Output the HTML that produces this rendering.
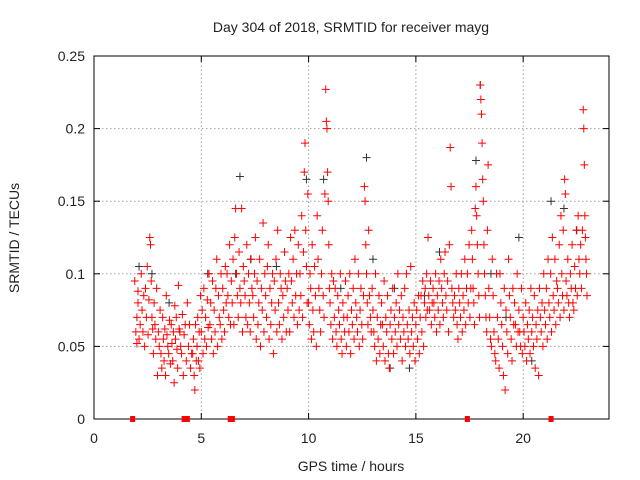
<!DOCTYPE html>
<html><head><meta charset="utf-8"><style>
body{margin:0;background:#fff}
svg{display:block;font-family:"Liberation Sans",sans-serif}
</style></head><body>
<svg id="chart" width="640" height="480" viewBox="0 0 640 480" xmlns="http://www.w3.org/2000/svg">
<text x="351" y="32" font-size="14" text-anchor="middle" fill="#222">Day 304 of 2018, SRMTID for receiver mayg</text>
<text x="351" y="471" font-size="14" text-anchor="middle" fill="#222">GPS time / hours</text>
<text transform="translate(19,238) rotate(-90)" font-size="14" text-anchor="middle" fill="#222">SRMTID / TECUs</text>
<g id="grid"></g><g id="black"></g><g id="red"></g><g id="axes"></g>
</svg>
<script>
const xTicks=[0,5,10,15,20];
const yTicks=[0,0.05,0.1,0.15,0.2,0.25];
const yTickLabels=["0","0.05","0.1","0.15","0.2","0.25"];
const binTimes=[1.9,2.0,2.2,2.4,2.6,2.8,3.0,3.2,3.4,3.6,3.8,4.0,4.2,4.4,4.6,4.8,5.0,5.2,5.4,5.6,5.8,6.0,6.2,6.4,6.6,6.8,7.0,7.2,7.4,7.6,7.8,8.0,8.2,8.4,8.6,8.8,9.0,9.2,9.4,9.6,9.8,10.0,10.2,10.4,10.6,10.8,11.0,11.2,11.4,11.6,11.8,12.0,12.2,12.4,12.6,12.8,13.0,13.2,13.4,13.6,13.8,14.0,14.2,14.4,14.6,14.8,15.0,15.2,15.4,15.6,15.8,16.0,16.2,16.4,16.6,16.8,17.0,17.2,17.4,17.6,17.8,18.0,18.2,18.4,18.6,18.8,19.0,19.2,19.4,19.6,19.8,20.0,20.2,20.4,20.6,20.8,21.0,21.2,21.4,21.6,21.8,22.0,22.2,22.4,22.6,22.8];
const binValues=[[.095,.06,.052,.08],[.07,.088,.055,.065],[.1,.075,.06,.085,.05],[.09,.07,.105,.058,.082],[.125,.12,.095,.07,.062,.045],[.08,.065,.055,.09,.03],[.06,.05,.075,.045,.035],[.07,.055,.04,.062,.03,.085],[.058,.05,.045,.068,.038],[.065,.052,.04,.06,.025,.078],[.055,.07,.048,.035,.092,.062],[.06,.05,.045,.072,.03],[.058,.065,.04,.08],[.05,.065,.035,.045],[.045,.055,.03,.02,.065,.04],[.05,.07,.04,.06,.035,.085],[.06,.075,.045,.09,.055],[.07,.05,.082,.063,.1],[.065,.08,.055,.095,.045],[.075,.06,.09,.11,.05],[.085,.07,.065,.1,.055],[.09,.075,.06,.105,.08],[.1,.085,.07,.12,.065],[.095,.08,.11,.065,.125],[.145,.1,.085,.07,.115],[.09,.08,.145,.06,.105],[.095,.085,.07,.12,.065],[.1,.08,.06,.11,.09],[.085,.07,.1,.125,.055],[.095,.065,.08,.11,.05],[.09,.075,.135,.06,.1],[.085,.07,.105,.12,.055],[.09,.065,.08,.1,.045],[.095,.075,.11,.06,.13],[.08,.065,.1,.09,.055],[.085,.07,.115,.095,.06],[.09,.075,.1,.06,.125],[.095,.08,.11,.07,.13],[.085,.1,.065,.12,.075],[.1,.085,.14,.07,.115],[.17,.19,.13,.105,.08,.155],[.08,.065,.1,.09,.055,.12],[.075,.06,.105,.085,.05],[.14,.11,.09,.075,.06],[.1,.13,.085,.07,.155],[.227,.205,.2,.17,.15,.12,.09],[.08,.065,.1,.055,.095],[.07,.09,.06,.05,.085],[.075,.065,.1,.055,.045],[.08,.07,.06,.095,.05],[.07,.085,.06,.1,.045],[.075,.065,.09,.055,.11],[.08,.07,.06,.1,.05],[.075,.09,.065,.055,.085],[.16,.15,.12,.1,.08,.065],[.13,.085,.07,.06,.09],[.075,.06,.05,.1,.04],[.07,.055,.085,.045,.065],[.08,.065,.05,.095,.04],[.07,.06,.085,.045,.035],[.065,.075,.055,.09,.045],[.07,.06,.08,.05,.1],[.065,.075,.055,.085,.04],[.07,.06,.09,.05,.1],[.065,.055,.075,.045,.105],[.06,.07,.05,.08,.04],[.065,.075,.055,.085,.045],[.07,.085,.06,.095,.05],[.08,.09,.07,.1,.075,.125],[.085,.075,.095,.065,.08],[.09,.08,.07,.1,.06],[.085,.075,.095,.065,.11],[.09,.08,.07,.1,.115],[.085,.075,.095,.06,.12],[.187,.16,.09,.08,.07],[.085,.075,.1,.065,.055],[.09,.08,.07,.1,.06],[.085,.075,.11,.065,.09],[.1,.08,.12,.07,.09],[.13,.11,.09,.08,.065,.145],[.16,.14,.12,.1,.085,.07],[.23,.22,.21,.19,.165,.15,.12],[.1,.085,.07,.06,.13,.175],[.09,.07,.055,.05,.11],[.085,.06,.045,.04,.1],[.07,.055,.035,.1,.08],[.065,.05,.03,.09,.02],[.075,.06,.045,.11,.085],[.07,.055,.04,.09,.065],[.08,.065,.05,.1,.06],[.075,.06,.05,.09,.045],[.07,.06,.05,.08,.04],[.065,.055,.075,.045,.09],[.06,.07,.05,.085,.035],[.065,.055,.075,.03,.09],[.07,.06,.08,.05,.1],[.075,.065,.09,.055,.11],[.08,.07,.1,.06,.125],[.085,.075,.11,.065,.095],[.09,.08,.12,.07,.14],[.1,.085,.13,.075,.165,.155],[.095,.085,.11,.08,.07],[.1,.09,.12,.08,.075],[.105,.09,.13,.085,.14],[.11,.1,.12,.09,.13],[.213,.2,.175,.14,.125,.11,.1,.085]];
const blackTimes=[2.1,2.7,4.8,6.8,6.6,9.9,10.7,12.7,13.8,14.0,15.4,16.1,17.8,18.0,18.5,19.8,20.4,21.3,21.9,22.5,8.5,11.5,3.5,5.3,7.3,19.2,13.0,14.7];
const blackValues=[.105,.1,.05,.167,.1,.165,.165,.18,.035,.09,.085,.115,.178,.23,.1,.125,.04,.15,.145,.13,.105,.09,.08,.1,.11,.07,.11,.035];
const flagTimes=[1.8,4.2,4.35,6.35,6.45,17.4,21.3];

const X0=94,X1=609,Y0=419,Y1=56,XMAX=24,YMAX=0.25;
const sx=v=>X0+(X1-X0)*v/XMAX, sy=v=>Y0-(Y0-Y1)*v/YMAX;
const NS="http://www.w3.org/2000/svg";
function mk(tag,attrs,parent){const e=document.createElementNS(NS,tag);for(const k in attrs)e.setAttribute(k,attrs[k]);parent.appendChild(e);return e;}
const grid=document.getElementById('grid'),axes=document.getElementById('axes');
xTicks.forEach((t,i)=>{
  const x=sx(t);
  if(t>0){const g=mk('line',{x1:x,x2:x,y1:Y0,y2:Y1,stroke:'#a0a0a0','stroke-dasharray':'1.5,2.5'},grid);
  
  }
  mk('line',{x1:x,x2:x,y1:Y0,y2:Y0-6,stroke:'#000'},axes);
  mk('line',{x1:x,x2:x,y1:Y1,y2:Y1+6,stroke:'#000'},axes);
  const l=mk('text',{x:x,y:Y0+24,'font-size':14,'text-anchor':'middle',fill:'#222'},axes);l.textContent=String(t);
  
  
});
yTicks.forEach((t,i)=>{
  const y=sy(t);
  if(t>0&&t<YMAX){const g=mk('line',{x1:X0,x2:X1,y1:y,y2:y,stroke:'#a0a0a0','stroke-dasharray':'1.5,2.5'},grid);
  
  }
  mk('line',{x1:X0,x2:X0+6,y1:y,y2:y,stroke:'#000'},axes);
  mk('line',{x1:X1,x2:X1-6,y1:y,y2:y,stroke:'#000'},axes);
  const l=mk('text',{x:X0-9,y:y+5,'font-size':14,'text-anchor':'end',fill:'#222'},axes);l.textContent=yTickLabels[i];
  
  
});
const frame=mk('rect',{x:X0,y:Y1,width:X1-X0,height:Y0-Y1,fill:'none',stroke:'#000'},axes);


function plus(x,y,col,parent,name){
  const p=mk('path',{d:`M${x-4},${y}h8M${x},${y-4}v8`,stroke:col,'stroke-width':1,fill:'none'},parent);
  
  
}
const blk=document.getElementById('black'),red=document.getElementById('red');
blackTimes.forEach((t,i)=>plus(sx(t),sy(blackValues[i]),'#333',blk,'black-point'));
binTimes.forEach((t,i)=>{const vs=binValues[i];vs.forEach((v,j)=>{
  const tt=t+0.2*j/vs.length;plus(sx(tt),sy(v),'#ff0000',red,'red-point');});});
flagTimes.forEach(t=>{
  const r=mk('rect',{x:sx(t)-2.5,y:Y0-3,width:5,height:6,fill:'#ff0000'},axes);
  
  
});
</script>
</body></html>
